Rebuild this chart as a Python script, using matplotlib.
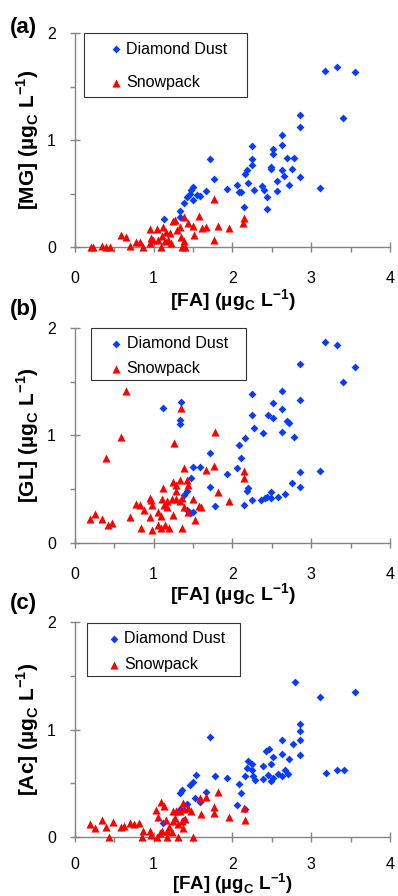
import numpy as np
import matplotlib
matplotlib.use('Agg')
import matplotlib.pyplot as plt
from matplotlib.patches import Rectangle
from matplotlib.ticker import MultipleLocator

plt.rcParams['font.family'] = ['Liberation Sans', 'DejaVu Sans']

# (a) MG vs FA
fa_dd_a = [3.18, 3.33, 3.55, 3.40, 2.86, 2.86, 2.63, 2.63, 2.25, 2.52, 2.52, 2.69, 2.78, 2.25,
           2.25, 2.49, 2.49, 2.76, 2.63, 2.18, 2.16, 2.66, 2.86, 2.20, 2.72, 2.06, 1.72, 1.77,
           1.93, 2.08, 2.11, 2.28, 2.38, 2.40, 2.44, 2.56, 2.57, 2.15, 2.44, 3.11, 1.67, 1.59,
           1.50, 1.46, 1.42, 1.50, 1.55, 1.39, 1.34, 1.33, 1.13, 1.48]
mg_dd_a = [1.65, 1.68, 1.64, 1.21, 1.23, 1.12, 1.05, 0.95, 0.94, 0.92, 0.87, 0.83, 0.83, 0.82,
           0.77, 0.75, 0.73, 0.73, 0.72, 0.72, 0.68, 0.66, 0.65, 0.60, 0.58, 0.58, 0.82, 0.64,
           0.54, 0.51, 0.51, 0.53, 0.57, 0.53, 0.47, 0.52, 0.62, 0.37, 0.36, 0.55, 0.52, 0.48,
           0.56, 0.50, 0.47, 0.44, 0.49, 0.41, 0.34, 0.28, 0.26, 0.53]
fa_sp_a = [0.20, 0.23, 0.34, 0.40, 0.45, 0.59, 0.65, 0.70, 0.78, 0.83, 0.86, 0.95, 1.04, 0.99,
           0.96, 1.06, 1.09, 1.12, 1.16, 1.18, 1.24, 1.27, 1.30, 1.34, 1.38, 1.35, 1.39, 1.36,
           1.44, 1.50, 1.51, 1.58, 1.61, 1.67, 1.77, 1.76, 1.82, 1.96, 2.15, 2.14, 1.40, 1.21,
           1.10, 1.14, 1.22, 0.97]
mg_sp_a = [0.00, 0.00, 0.01, 0.00, 0.00, 0.11, 0.09, 0.01, 0.05, 0.05, 0.00, 0.17, 0.17, 0.07,
           0.04, 0.07, 0.00, 0.19, 0.14, 0.07, 0.24, 0.25, 0.16, 0.19, 0.28, 0.09, 0.06, 0.00,
           0.22, 0.20, 0.11, 0.29, 0.18, 0.19, 0.45, 0.07, 0.20, 0.18, 0.27, 0.22, 0.00, 0.13,
           0.10, 0.06, 0.04, 0.08]

# (b) GL vs FA
fa_dd_b = [3.18, 3.33, 3.55, 3.40, 2.86, 2.86, 2.63, 2.63, 2.25, 2.52, 2.52, 2.25, 2.45, 2.69,
           2.72, 2.28, 2.39, 2.63, 2.78, 2.16, 2.08, 2.11, 2.06, 3.11, 2.86, 2.76, 2.86, 1.93,
           1.72, 1.59, 1.50, 1.48, 1.72, 1.78, 2.20, 2.18, 2.15, 2.25, 2.36, 2.41, 2.44, 2.49,
           2.49, 2.58, 2.67, 1.12, 1.35, 1.33, 1.33, 1.42, 1.38, 1.46, 1.50, 1.42]
gl_dd_b = [1.87, 1.84, 1.64, 1.50, 1.66, 1.33, 1.41, 1.25, 1.39, 1.30, 1.16, 1.19, 1.19, 1.13,
           1.12, 1.07, 1.02, 1.03, 0.99, 0.98, 0.91, 0.79, 0.70, 0.67, 0.66, 0.56, 0.52, 0.64,
           0.84, 0.71, 0.71, 0.60, 0.52, 0.34, 0.51, 0.48, 0.35, 0.40, 0.40, 0.42, 0.43, 0.47,
           0.42, 0.43, 0.46, 1.26, 1.31, 1.14, 1.11, 0.48, 0.45, 0.28, 0.29, 0.31]
fa_sp_b = [0.65, 0.59, 0.39, 1.35, 1.26, 1.78, 1.38, 1.77, 1.67, 2.15, 2.15, 1.25, 1.33, 1.42,
           1.43, 1.28, 1.12, 1.82, 1.96, 1.29, 0.95, 0.97, 1.10, 1.17, 1.23, 1.29, 1.36, 1.33,
           1.50, 1.38, 1.58, 1.60, 1.44, 0.78, 0.83, 0.88, 0.98, 1.06, 1.17, 1.13, 0.70, 0.95,
           1.09, 1.25, 0.84, 0.98, 1.06, 1.09, 1.14, 1.19, 1.36, 1.52, 0.19, 0.25, 0.34, 0.42,
           0.47]
gl_sp_b = [1.41, 0.99, 0.79, 1.26, 0.93, 1.03, 0.70, 0.72, 0.68, 0.67, 0.60, 0.57, 0.59, 0.59,
           0.54, 0.54, 0.51, 0.47, 0.39, 0.48, 0.42, 0.40, 0.41, 0.39, 0.41, 0.41, 0.42, 0.39,
           0.41, 0.33, 0.34, 0.33, 0.29, 0.36, 0.35, 0.31, 0.35, 0.29, 0.33, 0.35, 0.24, 0.24,
           0.25, 0.26, 0.14, 0.12, 0.17, 0.14, 0.17, 0.14, 0.14, 0.21, 0.22, 0.27, 0.22, 0.17,
           0.19]

# (c) Ac vs FA
fa_dd_c = [2.79, 3.55, 3.11, 3.19, 3.33, 3.41, 2.86, 2.86, 2.86, 2.86, 2.63, 2.77, 2.63, 2.72,
           1.72, 2.43, 2.46, 2.52, 2.49, 2.20, 2.25, 2.39, 2.18, 2.25, 2.26, 2.29, 2.39, 2.45,
           2.52, 2.49, 2.58, 2.63, 2.67, 2.70, 2.16, 2.08, 2.11, 2.06, 2.16, 1.93, 1.78, 1.67,
           1.54, 1.50, 1.46, 1.36, 1.33, 1.52, 1.59, 1.42, 1.33, 1.38, 1.12]
ac_dd_c = [1.44, 1.35, 1.30, 0.60, 0.62, 0.62, 1.05, 0.99, 0.90, 0.76, 0.90, 0.87, 0.77, 0.73,
           0.93, 0.80, 0.82, 0.74, 0.68, 0.71, 0.68, 0.66, 0.64, 0.62, 0.57, 0.53, 0.54, 0.58,
           0.55, 0.52, 0.59, 0.57, 0.62, 0.59, 0.57, 0.49, 0.41, 0.30, 0.26, 0.55, 0.57, 0.42,
           0.58, 0.51, 0.48, 0.44, 0.41, 0.36, 0.33, 0.31, 0.26, 0.16, 0.13]
fa_sp_c = [1.82, 1.67, 1.59, 1.77, 1.77, 1.60, 1.96, 2.15, 2.16, 1.37, 1.29, 1.25, 1.33, 1.39,
           1.44, 1.47, 1.09, 1.13, 1.03, 1.05, 1.16, 1.25, 1.27, 1.36, 1.40, 1.31, 1.37, 1.20,
           1.10, 1.17, 1.23, 1.08, 0.95, 0.97, 0.87, 0.85, 1.17, 1.31, 1.50, 1.04, 0.81, 0.75,
           0.70, 0.62, 0.59, 0.48, 0.40, 0.35, 0.25, 0.19, 0.44]
ac_sp_c = [0.42, 0.37, 0.36, 0.28, 0.22, 0.21, 0.19, 0.27, 0.16, 0.32, 0.24, 0.24, 0.24, 0.26,
           0.27, 0.24, 0.33, 0.29, 0.25, 0.19, 0.16, 0.15, 0.18, 0.15, 0.17, 0.12, 0.08, 0.09,
           0.06, 0.06, 0.05, 0.04, 0.06, 0.02, 0.06, 0.00, 0.00, 0.00, 0.00, 0.00, 0.13, 0.12,
           0.13, 0.10, 0.09, 0.14, 0.09, 0.16, 0.08, 0.12, 0.00]

panels = [
    ('(a)', '[MG]', fa_dd_a, mg_dd_a, fa_sp_a, mg_sp_a),
    ('(b)', '[GL]', fa_dd_b, gl_dd_b, fa_sp_b, gl_sp_b),
    ('(c)', '[Ac]', fa_dd_c, ac_dd_c, fa_sp_c, ac_sp_c),
]

# axes rectangles in figure fractions, legend frame and label offsets per panel
ax_rects = [[0.188, 0.7243, 0.792, 0.2388],
            [0.188, 0.3940, 0.792, 0.2400],
            [0.188, 0.0658, 0.792, 0.2400]]
leg_frames = [(0.029, 0.700, 0.517, 0.300),
              (0.051, 0.758, 0.492, 0.242),
              (0.038, 0.749, 0.486, 0.246)]
leg_anchor = [(0.114, 0.960), (0.116, 0.962), (0.109, 0.958)]
leg_spacing = [1.15, 0.65, 0.70]
xlab_y = [-0.19, -0.18, -0.160]
xlab_size = [14, 14, 13.5]
xtick_pad = [14, 14, 11]
tag_y = [1 - 27 / 896, 1 - 310 / 896, 1 - 603 / 896]

blue = '#0a3cff'
red = '#ff0000'
grey = '#858585'
unit = r' (µg$_\mathregular{C}$ L$^\mathregular{-1}$)'

fig = plt.figure(figsize=(3.98, 8.96), dpi=100)

for i, (tag, name, xd, yd, xs, ys) in enumerate(panels):
    ax = fig.add_axes(ax_rects[i])
    ax.scatter(xd, yd, marker='D', s=16, color=blue, linewidths=0, label='Diamond Dust',
               clip_on=False, zorder=3)
    ax.scatter(xs, ys, marker='^', s=34, color=red, linewidths=0, label='Snowpack',
               clip_on=False, zorder=3)
    ax.set_xlim(0, 4)
    ax.set_ylim(0, 2)
    for s in ['top', 'right']:
        ax.spines[s].set_visible(False)
    for s in ['left', 'bottom']:
        ax.spines[s].set_color(grey)
        ax.spines[s].set_linewidth(1.0)
    ax.xaxis.set_major_locator(MultipleLocator(1))
    ax.xaxis.set_minor_locator(MultipleLocator(0.5))
    ax.yaxis.set_major_locator(MultipleLocator(1))
    ax.yaxis.set_minor_locator(MultipleLocator(0.5))
    ax.tick_params(which='major', direction='inout', length=7, width=1, color=grey,
                   labelsize=11.5)
    ax.tick_params(which='minor', direction='out', length=3.5, width=1, color=grey)
    ax.tick_params(axis='x', which='major', pad=xtick_pad[i])
    ax.tick_params(axis='y', which='major', pad=10)

    ax.set_xlabel('[FA]' + unit, fontsize=xlab_size[i], fontweight='bold')
    ax.xaxis.set_label_coords(0.5, xlab_y[i])
    ax.set_ylabel(name + unit, fontsize=15, fontweight='bold')
    ax.yaxis.set_label_coords(-0.107, 0.5)

    fx, fy, fw, fh = leg_frames[i]
    ax.add_patch(Rectangle((fx, fy), fw, fh, transform=ax.transAxes, fill=False,
                           edgecolor='#333333', linewidth=0.8, clip_on=False, zorder=4))
    ax.legend(loc='upper left', bbox_to_anchor=leg_anchor[i], frameon=False, fontsize=11.5,
              scatterpoints=1, handlelength=0.6, handletextpad=0.35, borderpad=0,
              borderaxespad=0, labelspacing=leg_spacing[i])

    fig.text(0.025, tag_y[i], tag, fontsize=16, fontweight='bold', va='center', ha='left')

fig.savefig('out.png', dpi=100)
